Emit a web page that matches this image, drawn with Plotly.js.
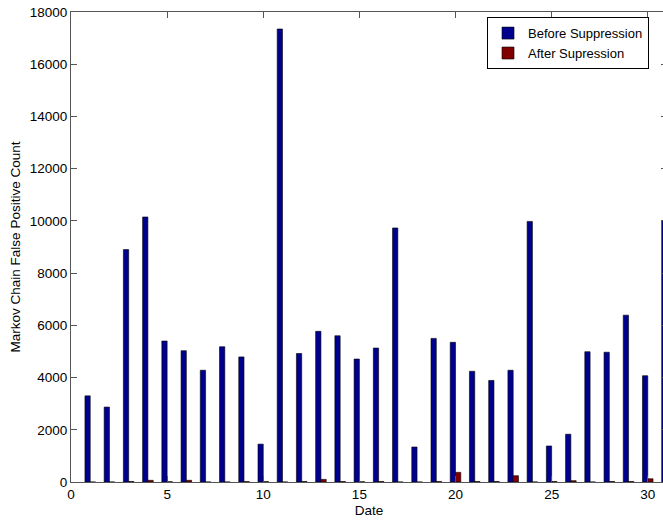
<!DOCTYPE html>
<html>
<head>
<meta charset="utf-8">
<script src="https://cdn.plot.ly/plotly-3.0.1.min.js"></script>
<style>
html, body { margin: 0; padding: 0; overflow: hidden; background: #fff; }
#chart { width: 680px; height: 523px; }
</style>
</head>
<body>
<div id="chart"></div>
<script>
const dates = [1,2,3,4,5,6,7,8,9,10,11,12,13,14,15,16,17,18,19,20,21,22,23,24,25,26,27,28,29,30,31];
const beforeSuppression = [3300,2870,8900,10150,5400,5030,4280,5180,4790,1450,17350,4920,5770,5600,4710,5130,9730,1340,5500,5350,4240,3890,4280,9980,1380,1830,4990,4970,6390,4070,10010];
const afterSuppression = [0,0,20,65,10,65,0,0,15,15,0,20,100,20,10,20,0,0,20,370,20,20,240,0,20,50,0,20,20,125,0];
const seriesNames = ["Before Suppression", "After Supression"];
const xTicks = [0,5,10,15,20,25,30];
const yTicks = [0,2000,4000,6000,8000,10000,12000,14000,16000,18000];
const yTickText = ["0","2000","4000","6000","8000","10000","12000","14000","16000","18000"];

const fontFam = "Liberation Sans, Arial, sans-serif";
const fs = 13.5;

const traces = [
  {
    type: "bar", x: dates, y: beforeSuppression, name: seriesNames[0],
    marker: { color: "rgb(0,0,143)", line: { color: "#000", width: 0.6 } }
  },
  {
    type: "bar", x: dates, y: afterSuppression, name: seriesNames[1],
    marker: { color: "rgb(128,0,0)", line: { color: "#000", width: 0.6 } }
  }
];

const layout = {
  width: 680, height: 523,
  margin: { l: 71, r: 13, t: 12, b: 41 },
  paper_bgcolor: "#fff", plot_bgcolor: "#fff",
  barmode: "group", bargap: 0.45, bargroupgap: 0,
  font: { family: fontFam, size: fs, color: "#000" },
  showlegend: true,
  legend: {
    x: 0.698, y: 0.989, xanchor: "left", yanchor: "top",
    bgcolor: "#fff", bordercolor: "#000", borderwidth: 1,
    font: { family: fontFam, size: 13, color: "#000" },
    tracegroupgap: 0, itemwidth: 30, entrywidth: 130
  },
  xaxis: {
    range: [0, 31], tickmode: "array", tickvals: xTicks,
    ticks: "inside", ticklen: 6, tickcolor: "#555", mirror: "ticks",
    showline: true, linecolor: "#555", linewidth: 1,
    showgrid: false, zeroline: false,
    tickfont: { family: fontFam, size: fs, color: "#000" },
    title: { text: "Date", font: { family: fontFam, size: fs, color: "#000" }, standoff: 4 }
  },
  yaxis: {
    range: [0, 18000], tickmode: "array",
    tickvals: yTicks, ticktext: yTickText,
    ticks: "inside", ticklen: 6, tickcolor: "#555", mirror: "ticks",
    showline: true, linecolor: "#555", linewidth: 1,
    showgrid: false, zeroline: false,
    tickfont: { family: fontFam, size: fs, color: "#000" },
    title: { text: "Markov Chain False Positive Count", font: { family: fontFam, size: fs, color: "#000" }, standoff: 6 }
  }
};

Plotly.newPlot("chart", traces, layout, { displayModeBar: false, responsive: false });
</script>
</body>
</html>
